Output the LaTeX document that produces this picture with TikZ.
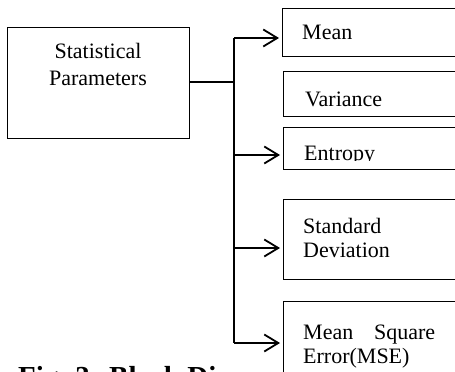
\documentclass[tikz,border=0pt]{standalone}
\usepackage{fontspec}
\setmainfont{Liberation Serif}
\usetikzlibrary{arrows.meta}
\tikzset{
  box/.style={draw, line width=1pt, fill=white},
  lbl/.style={anchor=base west, inner sep=0pt, font=\fontsize{22}{27}\selectfont},
  wire/.style={line width=1.8pt},
  arr/.style={wire, -{Straight Barb[length=14pt, width=17pt, line width=1.8pt]}, shorten >=3pt},
}
\begin{document}
\begin{tikzpicture}[x=1pt, y=-1pt]
\useasboundingbox (0,0) rectangle (455,372);
\clip (0,0) rectangle (455,372);

% caption, partly hidden below the last box
\node[anchor=base west, inner sep=0pt, font=\fontsize{29}{34}\bfseries\selectfont] (cap) at (18,386) {Fig. 3: Block Di};

% source block
\draw[box] (7,27) rectangle (189,138);
\node[anchor=north, inner sep=0pt, align=center, font=\fontsize{22}{27}\selectfont] (sp) at (98,43) {Statistical\\Parameters};
\coordinate (spE) at (189,82);

% parameter blocks (running past the right edge)
\draw[box] (282,8) rectangle (470,56);
\coordinate (meanW) at (282,38);
\node[lbl] (mean) at (302,39) {Mean};

\draw[box] (283,71) rectangle (470,116);
\node[lbl] (var) at (305,106) {Variance};

\draw[box] (283,127) rectangle (470,169);
\coordinate (entW) at (283,155);
\begin{scope}
  \clip (283,127) rectangle (470,160.5);
  \node[lbl] (ent) at (304,160) {Entropy};
\end{scope}

\draw[box] (283,199) rectangle (470,279);
\coordinate (sdW) at (283,248);
\node[lbl, align=left] (sd1) at (303,233) {Standard};
\node[lbl] (sd2) at (303,257) {Deviation};

\draw[box] (283,301) rectangle (470,400);
\coordinate (mseW) at (283,343);
\node[lbl] (mse1) at (303,339) {\makebox[132pt][s]{Mean Square}};
\node[lbl] (mse2) at (303,363) {Error(MSE)};

% distribution bus
\coordinate (busT) at (234,38);
\coordinate (busB) at (234,343);
\draw[wire] (spE) -- (spE -| busT);
\draw[wire] (busT) -- (busB);
\draw[arr] (busT) -- (meanW);
\draw[arr] (entW -| busT) -- (entW);
\draw[arr] (sdW -| busT) -- (sdW);
\draw[arr] (busB) -- (mseW);
\end{tikzpicture}
\end{document}
